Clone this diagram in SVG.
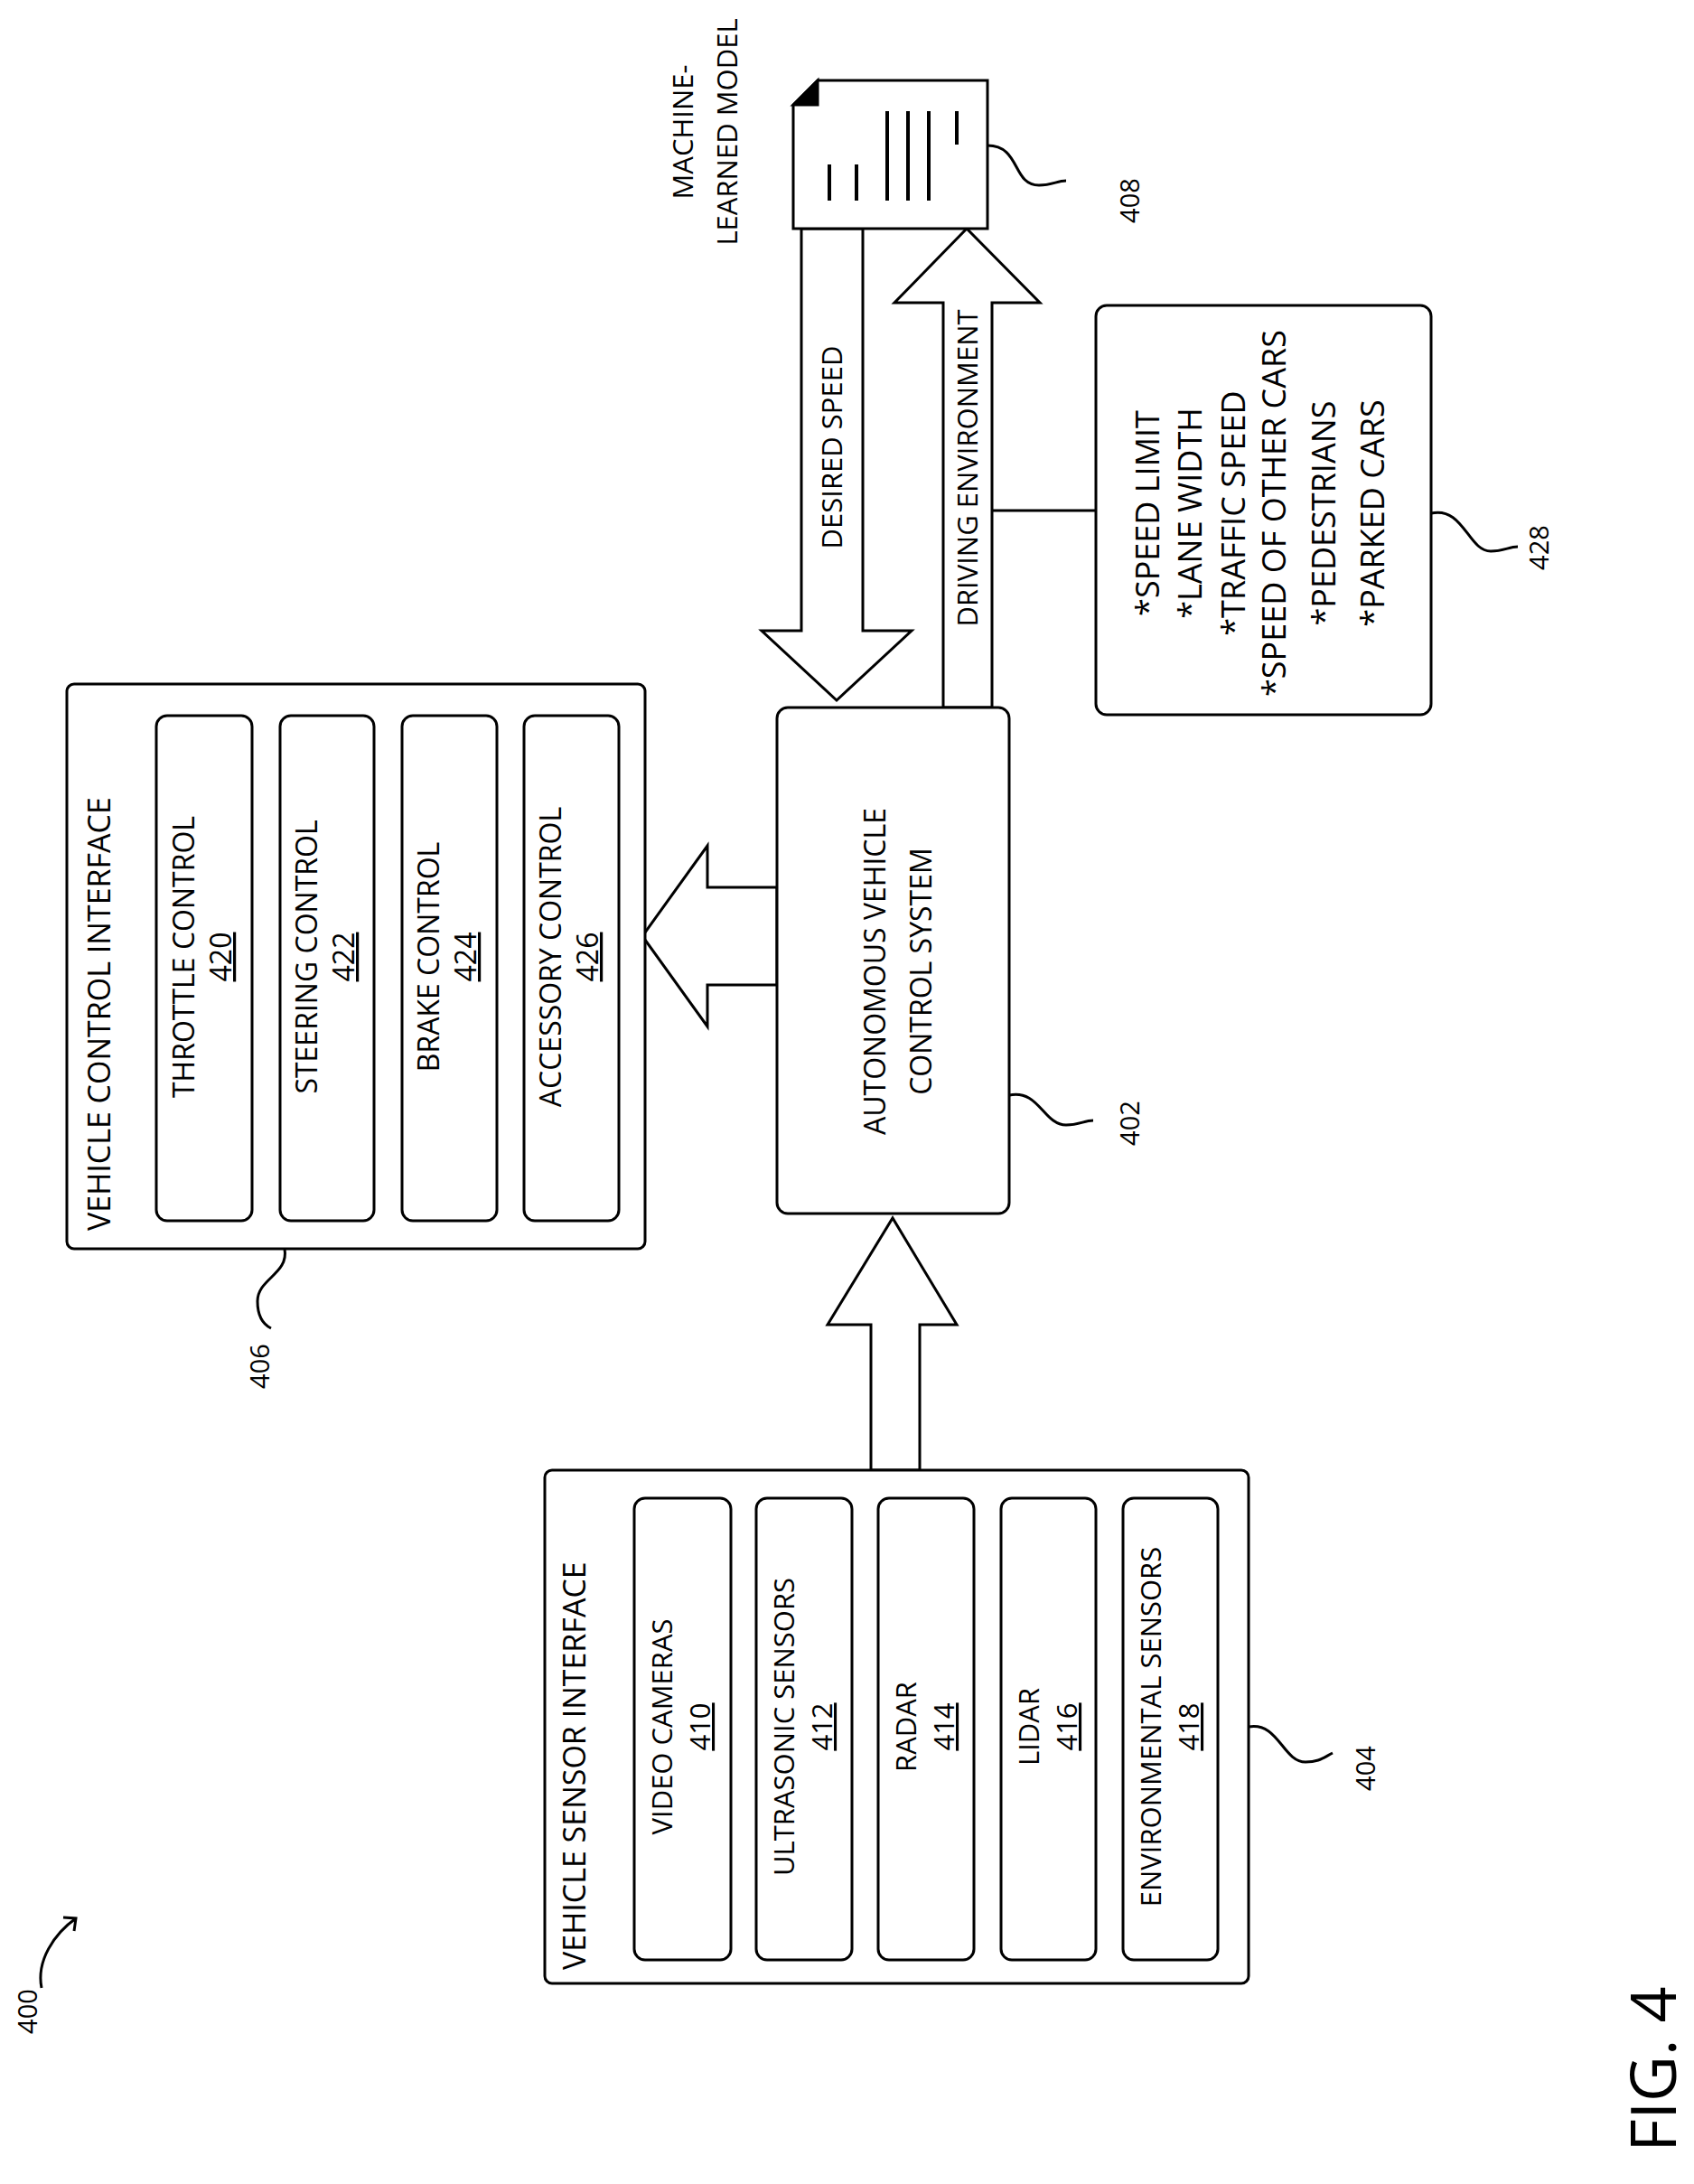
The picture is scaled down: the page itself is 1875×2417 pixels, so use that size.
<svg xmlns="http://www.w3.org/2000/svg" width="1875" height="2417" viewBox="0 0 1875 2417">
<style>
text{font-family:"Open Sans","Liberation Sans",sans-serif;fill:#000}
.box{fill:#fff;stroke:#000;stroke-width:3}
.t{font-size:31px;text-anchor:middle}
.u{font-size:32px;text-anchor:middle}
.s{font-size:29px;text-anchor:middle}
.h{font-size:34px;text-anchor:start}
.l{font-size:36px;text-anchor:middle}
.ln{fill:none;stroke:#000;stroke-width:3}
.ar{fill:#fff;stroke:#000;stroke-width:3;stroke-linejoin:miter}
</style>
<rect width="1875" height="2417" fill="#fff"/>
<g id="connectors">
<polygon class="ar" points="860,982 783,982 783,936 711,1036 783,1136 783,1090 860,1090"/>
<polygon class="ar" points="964,1627 964,1466 916,1466 988,1348 1059,1466 1018,1466 1018,1627"/>
<polygon class="ar" points="887,253 887,698 843,698 926,775 1009,698 955,698 955,253"/>
<text class="t" transform="translate(932,495) rotate(-90)">DESIRED SPEED</text>
<polygon class="ar" points="1044,783 1044,335 990,335 1070,253 1151,335 1098,335 1098,783"/>
<text class="t" transform="translate(1082,518) rotate(-90)">DRIVING ENVIRONMENT</text>
<line class="ln" x1="1098" y1="565" x2="1213" y2="565"/>
<path class="ln" d="M1093,161 C1130,161 1120,205 1150,205 C1165,205 1170,200 1180,200"/>
<path class="ln" d="M1584,568 C1620,560 1625,610 1650,610 C1665,610 1670,605 1680,605"/>
<path class="ln" d="M1117,1212 C1150,1205 1155,1245 1180,1245 C1195,1245 1200,1240 1210,1240"/>
<path class="ln" d="M315,1382 C320,1410 285,1415 285,1440 C285,1455 290,1465 300,1470"/>
<path class="ln" d="M1382,1911 C1415,1905 1420,1950 1445,1950 C1460,1950 1465,1945 1475,1940"/>
<path class="ln" d="M46,2200 C40,2170 60,2140 84,2123"/>
<polyline class="ln" points="70,2122 84,2123 82,2137"/>
</g>
<g id="n406">
<rect class="box" x="74" y="757" width="640" height="625" rx="8"/>
<text class="h" transform="translate(122,1362) rotate(-90)">VEHICLE CONTROL INTERFACE</text>
<rect class="box" x="173" y="792" width="106" height="559" rx="12"/>
<rect class="box" x="310" y="792" width="104" height="559" rx="12"/>
<rect class="box" x="445" y="792" width="105" height="559" rx="12"/>
<rect class="box" x="580" y="792" width="105" height="559" rx="12"/>
<text class="u" transform="translate(215,1059) rotate(-90)">THROTTLE CONTROL</text>
<text class="u" text-decoration="underline" transform="translate(256,1059) rotate(-90)">420</text>
<text class="u" transform="translate(351,1059) rotate(-90)">STEERING CONTROL</text>
<text class="u" text-decoration="underline" transform="translate(392,1059) rotate(-90)">422</text>
<text class="u" transform="translate(486,1059) rotate(-90)">BRAKE CONTROL</text>
<text class="u" text-decoration="underline" transform="translate(527,1059) rotate(-90)">424</text>
<text class="u" transform="translate(621,1059) rotate(-90)">ACCESSORY CONTROL</text>
<text class="u" text-decoration="underline" transform="translate(662,1059) rotate(-90)">426</text>
<text class="s" transform="translate(298,1512) rotate(-90)">406</text>
</g>
<g id="n402">
<rect class="box" x="860" y="783" width="257" height="560" rx="12"/>
<text class="u" transform="translate(980,1075) rotate(-90)">AUTONOMOUS VEHICLE</text>
<text class="u" transform="translate(1031,1075) rotate(-90)">CONTROL SYSTEM</text>
<text class="s" transform="translate(1261,1243) rotate(-90)">402</text>
</g>
<g id="n408">
<polygon class="box" points="905,89 1093,89 1093,253 878,253 878,116"/>
<polygon points="878,116 905,89 905,116" fill="#000" stroke="#000" stroke-width="3"/>
<g class="ln" style="stroke-width:4">
<line x1="918" y1="182" x2="918" y2="222"/>
<line x1="948" y1="182" x2="948" y2="222"/>
<line x1="982" y1="123" x2="982" y2="222"/>
<line x1="1005" y1="123" x2="1005" y2="222"/>
<line x1="1028" y1="123" x2="1028" y2="222"/>
<line x1="1059" y1="123" x2="1059" y2="160"/>
</g>
<text class="t" transform="translate(767,146) rotate(-90)">MACHINE-</text>
<text class="t" transform="translate(816,146) rotate(-90)">LEARNED MODEL</text>
<text class="s" transform="translate(1261,222) rotate(-90)">408</text>
</g>
<g id="n428">
<rect class="box" x="1213" y="338" width="371" height="453" rx="12"/>
<text class="l" transform="translate(1283,568) rotate(-90)">*SPEED LIMIT</text>
<text class="l" transform="translate(1330,568) rotate(-90)">*LANE WIDTH</text>
<text class="l" transform="translate(1378,568) rotate(-90)">*TRAFFIC SPEED</text>
<text class="l" transform="translate(1423,568) rotate(-90)">*SPEED OF OTHER CARS</text>
<text class="l" transform="translate(1478,568) rotate(-90)">*PEDESTRIANS</text>
<text class="l" transform="translate(1532,568) rotate(-90)">*PARKED CARS</text>
<text class="s" transform="translate(1714,606) rotate(-90)">428</text>
</g>
<g id="n404">
<rect class="box" x="603" y="1627" width="779" height="568" rx="8"/>
<text class="h" transform="translate(648,2180) rotate(-90)">VEHICLE SENSOR INTERFACE</text>
<rect class="box" x="702" y="1658" width="107" height="511" rx="12"/>
<rect class="box" x="837" y="1658" width="106" height="511" rx="12"/>
<rect class="box" x="972" y="1658" width="106" height="511" rx="12"/>
<rect class="box" x="1108" y="1658" width="105" height="511" rx="12"/>
<rect class="box" x="1243" y="1658" width="105" height="511" rx="12"/>
<text class="t" transform="translate(744,1911) rotate(-90)">VIDEO CAMERAS</text>
<text class="t" text-decoration="underline" transform="translate(786,1911) rotate(-90)">410</text>
<text class="t" transform="translate(879,1911) rotate(-90)">ULTRASONIC SENSORS</text>
<text class="t" text-decoration="underline" transform="translate(921,1911) rotate(-90)">412</text>
<text class="t" transform="translate(1014,1911) rotate(-90)">RADAR</text>
<text class="t" text-decoration="underline" transform="translate(1056,1911) rotate(-90)">414</text>
<text class="t" transform="translate(1150,1911) rotate(-90)">LIDAR</text>
<text class="t" text-decoration="underline" transform="translate(1192,1911) rotate(-90)">416</text>
<text class="t" transform="translate(1285,1911) rotate(-90)">ENVIRONMENTAL SENSORS</text>
<text class="t" text-decoration="underline" transform="translate(1327,1911) rotate(-90)">418</text>
<text class="s" transform="translate(1522,1957) rotate(-90)">404</text>
</g>
<g id="labels">
<text class="s" transform="translate(41,2226) rotate(-90)">400</text>
<text style="font-size:70px;text-anchor:middle" transform="translate(1855,2290) rotate(-90)">FIG. 4</text>
</g>
</svg>
